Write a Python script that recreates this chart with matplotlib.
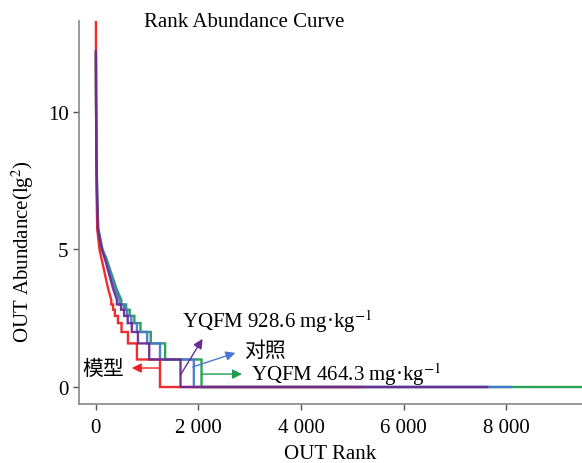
import numpy as np
import matplotlib
matplotlib.use("Agg")
from matplotlib import pyplot as plt

plt.rcParams['font.family'] = ['Liberation Serif', 'Noto Sans CJK SC']
plt.rcParams['mathtext.fontset'] = 'stix'

# head of each curve: (rank, log2 abundance)
red_head_rank = [0, 2, 6, 14, 25, 70, 111, 240, 300]
red_head_val = [13.3, 11.0, 9.0, 7.0, 5.75, 5.0, 4.65, 3.56, 3.17]
purple_head_rank = [0, 3, 10, 22, 40, 115, 176, 337, 410]
purple_head_val = [12.2, 10.5, 8.5, 7.0, 5.75, 5.0, 4.65, 3.56, 3.17]
blue_head_rank = [0, 3, 10, 24, 43, 122, 195, 375, 460]
blue_head_val = [12.2, 10.5, 8.6, 7.0, 5.75, 5.0, 4.65, 3.56, 3.17]
green_head_rank = [0, 3, 10, 25, 45, 130, 208, 404, 495]
green_head_val = [12.1, 10.5, 8.6, 7.0, 5.75, 5.0, 4.65, 3.56, 3.17]

# tail: OTU counts 8..1 and the rank at which each count ends
tail_levels = [8, 7, 6, 5, 4, 3, 2, 1]
red_tail_end = [335, 370, 430, 500, 625, 800, 1250, 5200]
purple_tail_end = [450, 490, 550, 620, 700, 820, 1040, 1650, 7630]
blue_tail_end = [500, 545, 610, 690, 800, 1000, 1250, 1910, 8100]
green_tail_end = [540, 590, 660, 750, 870, 1070, 1350, 2060, 9800]


def build(head_r, head_v, tail_end):
    xs, ys = list(head_r), list(head_v)
    prev = head_r[-1]
    for c, e in zip(tail_levels, tail_end[-len(tail_levels):]):
        v = np.log2(c)
        xs += [prev, e]
        ys += [v, v]
        prev = e
    return xs, ys


fig = plt.figure(figsize=(5.82, 4.64), dpi=100)
ax = fig.add_axes([0.1357, 0.127, 0.8643, 0.8256])

series = [
    (green_head_rank, green_head_val, green_tail_end, '#1e9e4e'),
    (blue_head_rank, blue_head_val, blue_tail_end, '#4a78d0'),
    (red_head_rank, red_head_val, red_tail_end, '#f02020'),
    (purple_head_rank, purple_head_val, purple_tail_end, '#6b2c91'),
]
for hr, hv, te, col in series:
    xs, ys = build(hr, hv, te)
    ax.plot(xs, ys, color=col, lw=1.7, alpha=0.95, solid_joinstyle='miter')

ax.set_xlim(-330, 9480)
ax.set_ylim(-0.62, 13.3)
ax.set_xticks([0, 2000, 4000, 6000, 8000])
ax.set_xticklabels(['0', '2 000', '4 000', '6 000', '8 000'])
ax.set_yticks([0, 5, 10])
ax.tick_params(labelsize=15, length=4, width=1, color='#555555', direction='out')
ax.tick_params(axis='x', pad=6)
for s in ['top', 'right']:
    ax.spines[s].set_visible(False)
for s in ['left', 'bottom']:
    ax.spines[s].set_color('#888888')
    ax.spines[s].set_linewidth(1.2)

ax.set_xlabel('OUT Rank', fontsize=15, labelpad=5)
ax.set_ylabel('OUT Abundance(lg$^2$)', fontsize=15)
ax.yaxis.set_label_coords(-0.085, 0.4)
fig.text(0.42, 0.952, 'Rank Abundance Curve', fontsize=15, ha='center', va='center')

ann = [
    ('模型', (1250, 0.69), (700, 0.69), (560, 0.65), 'right', '#f02020'),
    ('YQFM 464.3 mg·kg$^{-1}$', (2060, 0.47), (2850, 0.47), (3020, 0.47), 'left', '#1e9e4e'),
    ('对照', (1890, 0.73), (2720, 1.24), (2880, 1.31), 'left', '#4a78d0'),
    ('YQFM 928.6 mg·kg$^{-1}$', (1650, 0.44), (2080, 1.75), (1680, 2.4), 'left', '#6b2c91'),
]
for txt, p0, p1, pt, ha, col in ann:
    ax.annotate('', xy=p1, xytext=p0,
                arrowprops=dict(arrowstyle='-|>', color=col, lw=1.0,
                                mutation_scale=14, shrinkA=0, shrinkB=0))
    ax.text(pt[0], pt[1], txt, fontsize=15, ha=ha, va='center')

fig.savefig('out.png', dpi=100)
